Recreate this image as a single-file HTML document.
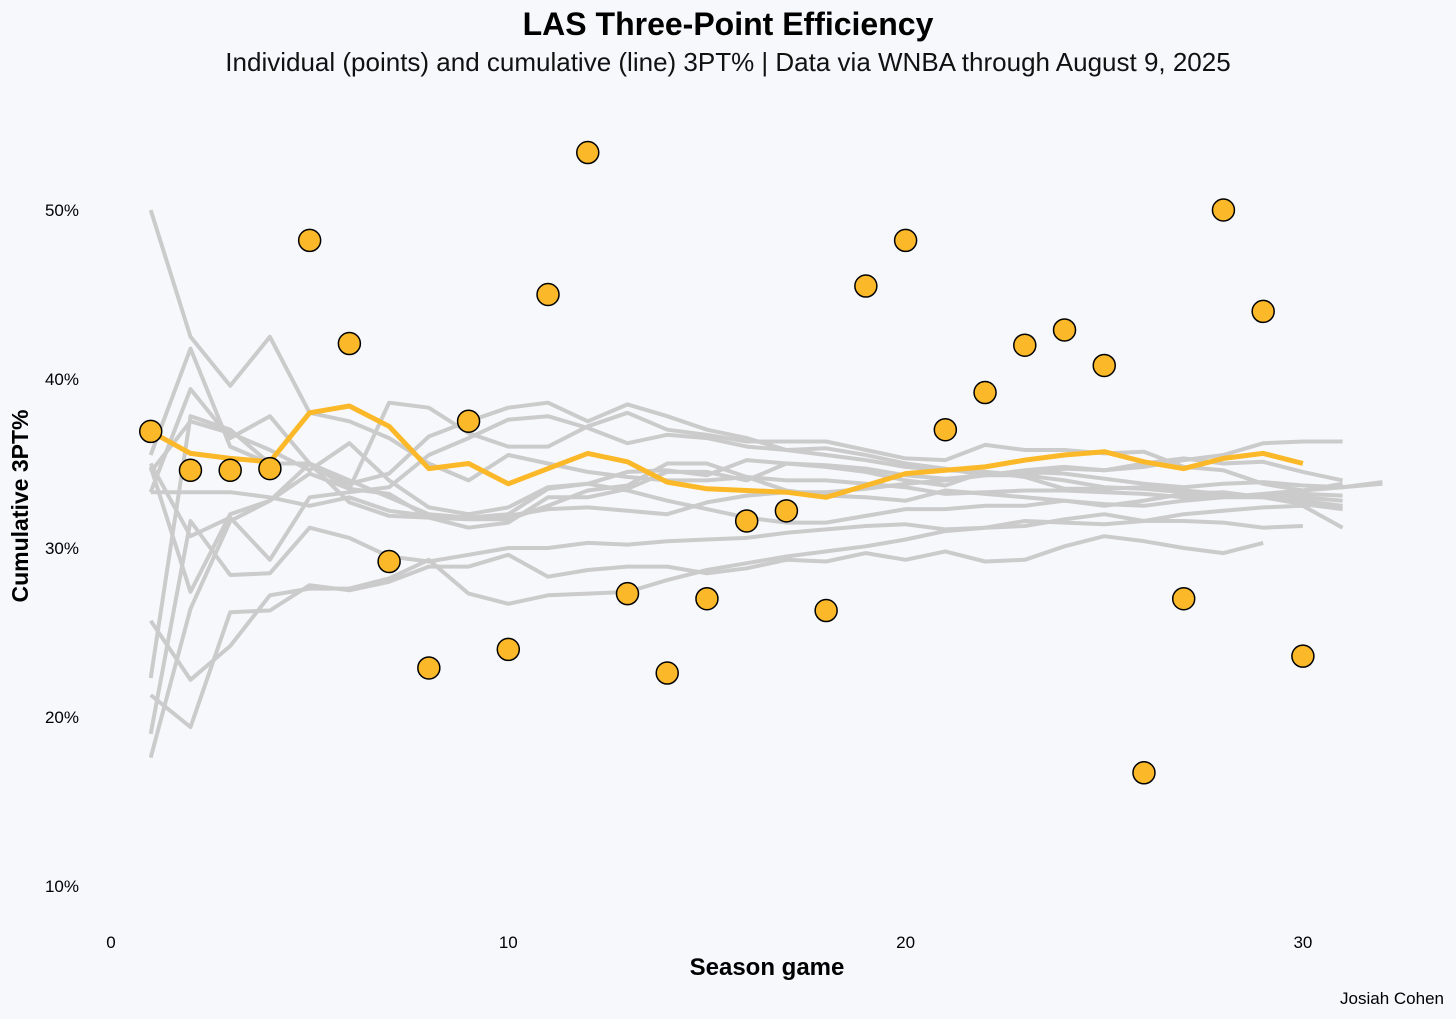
<!DOCTYPE html>
<html><head><meta charset="utf-8">
<style>
html,body{margin:0;padding:0;background:#f7f8fc;}
svg{display:block;font-family:"Liberation Sans",Arial,sans-serif;}
</style></head>
<body>
<svg id="chart" width="1456" height="1019" viewBox="0 0 1456 1019">
<rect width="1456" height="1019" fill="#f7f8fc"/>
<text x="728" y="35" text-anchor="middle" font-size="32" font-weight="bold" fill="#000">LAS Three-Point Efficiency</text>
<text x="728" y="71" text-anchor="middle" font-size="26" fill="#111">Individual (points) and cumulative (line) 3PT% | Data via WNBA through August 9, 2025</text>
<text x="28" y="506" text-anchor="middle" font-size="23" font-weight="bold" transform="rotate(-90 28 506)">Cumulative 3PT%</text>
<text x="767" y="975" text-anchor="middle" font-size="24" font-weight="bold">Season game</text>
<text x="1444" y="1004" text-anchor="end" font-size="17">Josiah Cohen</text>
<g id="axes"></g>
<g id="gray"></g>
<g id="orange"></g>
</svg>
<script>
const xTicks=[0,10,20,30];
const yTicks=[10,20,30,40,50];
const grayA=[50,42.5,39.6,42.5,38,37.5,36.5,35,34,35.5,35,34.5,34.2,34,34,34.2,34,34,33.8,33.6,33.2,33.3,33.4,33.4,33.3,33.2,33,33,33,33.2,33.1];
const grayB=[17.6,26.4,31.6,32.8,35,34,33,32,31.8,32,33.5,33.8,34.5,34.6,34.3,35.2,35,34.9,34.7,34.3,34.1,34.3,34.5,34.4,34.1,33.8,33.6,33.8,33.9,33.7,33.6,33.9];
const grayC=[35.5,41.8,36,35,35,33.8,34.4,36.6,37.5,38.3,38.6,37.5,38.5,37.8,37,36.5,35.8,35.5,35.2,34.8,34.6,34.5,34.3,34,33.6,33.5,33.3,33.1,33,32.6,32.3];
const grayD=[33.3,39.4,36.5,37.8,35,33.5,33.2,31.8,31.2,31.5,33,33,33.5,34.5,34.5,34,35,34.8,34.5,34,33.7,34.5,34.2,33.5,33.5,33.6,33.4,33.2,33,33,32.8];
const grayE=[21.3,19.4,26.2,26.3,27.8,27.5,28,28.9,28.9,29.6,28.3,28.7,28.9,28.9,28.5,28.8,29.3,29.2,29.7,29.3,29.8,29.2,29.3,30.1,30.7,30.4,30,29.7,30.3];
const grayF=[25.7,22.2,24.2,27.2,27.6,27.6,28.2,29.3,27.3,26.7,27.2,27.3,27.4,28.1,28.7,29.1,29.5,29.8,30.1,30.5,31,31.2,31.6,31.5,31.4,31.6,31.6,31.5,31.2,31.3];
const grayG=[19,31.6,28.4,28.5,31.2,30.6,29.5,29.2,29.6,30,30,30.3,30.2,30.4,30.5,30.6,30.9,31.1,31.3,31.4,31.1,31.2,31.3,31.7,32,31.6,32,32.2,32.4,32.5,31.2];
const grayH=[22.3,37.8,37,35,35,32.7,31.9,31.8,31.7,31.7,32.5,33.4,33.7,35,35,34.2,33.4,33.1,33,32.8,33.4,33.2,33,32.8,32.5,32.8,33.2,33.3,33,32.8,32.5];
const grayI=[34.5,37.5,36.8,35.8,34.6,36.2,34,32.4,32,32.4,33.6,33.8,33.4,32.8,32.3,31.8,31.5,31.5,31.9,32.3,32.3,32.5,32.5,32.8,32.6,32.5,32.8,33,33.2,33.4,33.6,33.8];
const grayJ=[33.3,33.3,33.3,33,32.5,33,32.2,31.9,31.8,31.9,32.3,32.4,32.2,32,32.7,33.1,33.3,33.3,33.5,33.8,34,34.3,34.6,34.8,34.6,34.8,35.2,35.5,36.2,36.3,36.3];
const grayK=[35,30.7,31.8,29.3,33,33.3,33.6,35.5,36.5,37.6,37.8,37.1,36.2,36.7,36.5,36,35.8,35.9,35.5,35,34.7,34.3,34.3,34.7,34.6,35,35.3,35,35.1,34.5,34];
const grayL=[34.8,27.4,32,32.8,34.4,33.5,38.6,38.3,36.8,36,36,37.2,38,37,36.7,36.3,36.3,36.3,35.8,35.3,35.2,36.1,35.8,35.8,35.6,35.7,34.8,34.6,33.8,33.4,33.8];
const graySeries=[grayA,grayB,grayC,grayD,grayE,grayF,grayG,grayH,grayI,grayJ,grayK,grayL];
const lasCumulative=[36.9,35.6,35.3,35.1,38.0,38.4,37.2,34.7,35.0,33.8,34.7,35.6,35.1,33.9,33.5,33.4,33.3,33.0,33.7,34.4,34.6,34.8,35.2,35.5,35.7,35.1,34.7,35.3,35.6,35.0];
const lasGame=[36.9,34.6,34.6,34.7,48.2,42.1,29.2,22.9,37.5,24.0,45.0,53.4,27.3,22.6,27.0,31.6,32.2,26.3,45.5,48.2,37.0,39.2,42.0,42.9,40.8,16.7,27.0,50.0,44.0,23.6];

const NS="http://www.w3.org/2000/svg";
function xs(g){return 111+g*39.73;}
function ys(p){return 210+(50-p)*16.9;}
function mk(tag,attrs,parent){const e=document.createElementNS(NS,tag);for(const k in attrs)e.setAttribute(k,attrs[k]);parent.appendChild(e);return e;}
const axes=document.getElementById('axes');
xTicks.forEach(t=>{
  const e=mk('text',{x:xs(t),y:948,'text-anchor':'middle','font-size':17},axes);
  e.textContent=t;
  
  
});
yTicks.forEach(t=>{
  const e=mk('text',{x:79,y:ys(t)+6,'text-anchor':'end','font-size':17},axes);
  e.textContent=t+'%';
  
  
});
const gray=document.getElementById('gray');
graySeries.forEach(s=>{
  const d=s.map((v,i)=>(i?'L':'M')+xs(i+1).toFixed(1)+' '+ys(v).toFixed(1)).join(' ');
  const p=mk('path',{d:d,fill:'none',stroke:'#cbcbcb','stroke-width':4,'stroke-linejoin':'round'},gray);
  
  
});
const og=document.getElementById('orange');
const d=lasCumulative.map((v,i)=>(i?'L':'M')+xs(i+1).toFixed(1)+' '+ys(v).toFixed(1)).join(' ');
const line=mk('path',{d:d,fill:'none',stroke:'#fbb829','stroke-width':5,'stroke-linejoin':'round'},og);


lasGame.forEach((v,i)=>{
  const c=mk('circle',{cx:xs(i+1),cy:ys(v),r:11,fill:'#fbb829',stroke:'#000','stroke-width':1.5},og);
  
  
});
</script>
</body></html>
